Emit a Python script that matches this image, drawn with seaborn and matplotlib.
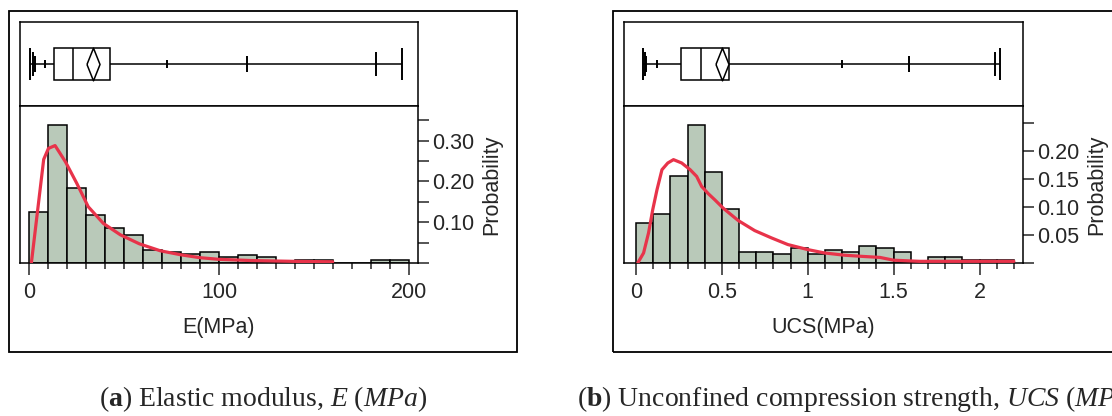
import matplotlib
matplotlib.use('Agg')
import matplotlib.pyplot as plt
from matplotlib.patches import Rectangle
from matplotlib.ticker import FixedLocator, FixedFormatter, MultipleLocator
import seaborn as sns

# ---- values ----
# (a) Elastic modulus E (MPa), histogram with 10 MPa bins
e_edges = list(range(0, 210, 10))
e_prob = [0.125, 0.338, 0.183, 0.117, 0.085, 0.068, 0.031, 0.027, 0.023, 0.028,
          0.015, 0.020, 0.015, 0.0, 0.008, 0.008, 0.0, 0.0, 0.008, 0.008]
# fitted density curve
e_fit_x = [1, 7.5, 10, 13.5, 19, 25, 31, 39, 48, 58, 69, 80, 90, 100, 117, 140, 160]
e_fit_y = [0, 0.254, 0.281, 0.288, 0.248, 0.195, 0.138, 0.097, 0.069, 0.047,
           0.030, 0.020, 0.013, 0.009, 0.006, 0.004, 0.003]
# box chart: min, 1%, 5%, 10%, 90%, 95%, 99%, max
e_pct = [0.3, 1.6, 2.9, 8.3, 72.5, 115, 183, 196.6]
e_quart = [13.2, 22.9, 42.6]
e_mean = 33.4

# (b) Unconfined compression strength UCS (MPa), 0.1 MPa bins
u_edges = [round(0.1 * i, 1) for i in range(23)]
u_prob = [0.071, 0.088, 0.156, 0.247, 0.162, 0.097, 0.019, 0.019, 0.016, 0.026,
          0.017, 0.023, 0.020, 0.030, 0.027, 0.020, 0.0, 0.011, 0.011, 0.006,
          0.006, 0.006]
u_fit_x = [0.01, 0.044, 0.073, 0.097, 0.122, 0.151, 0.185, 0.218, 0.266, 0.315,
           0.353, 0.382, 0.421, 0.459, 0.508, 0.595, 0.691, 0.788, 0.884, 1.0,
           1.097, 1.212, 1.309, 1.42, 1.5, 1.65, 1.9, 2.2]
u_fit_y = [0, 0.018, 0.054, 0.095, 0.131, 0.167, 0.179, 0.185, 0.179, 0.167,
           0.155, 0.137, 0.124, 0.113, 0.098, 0.076, 0.058, 0.045, 0.033, 0.024,
           0.018, 0.014, 0.012, 0.010, 0.005, 0.003, 0.003, 0.003]
u_pct = [0.041, 0.055, 0.060, 0.125, 1.202, 1.587, 2.088, 2.119]
u_quart = [0.262, 0.380, 0.540]
u_mean = 0.503

# ---- style ----
sns.set_style('white')
plt.rcParams['font.family'] = ['Liberation Sans', 'DejaVu Sans']
plt.rcParams['mathtext.fontset'] = 'custom'
plt.rcParams['mathtext.rm'] = 'Liberation Serif'
plt.rcParams['mathtext.it'] = 'Liberation Serif:italic'
plt.rcParams['mathtext.bf'] = 'Liberation Serif:bold'

BAR = '#b9c9b9'
RED = '#e8334a'
LW = 1.1
W, H = 1112, 416

fig = plt.figure(figsize=(W / 100, H / 100), dpi=100)


def fig_rect(x0, y0, x1, y1):
    return [x0 / W, 1 - y1 / H, (x1 - x0) / W, (y1 - y0) / H]


# half heights of the percentile marks (min, 1, 5, 10, 90, 95, 99, max)
mark_half = [0.196, 0.143, 0.10, 0.042, 0.042, 0.10, 0.143, 0.196]
diamond = [(-0.4, 0), (0, 1), (0.4, 0), (0, -1), (-0.4, 0)]


def draw_box(ax, pct, quart, mean, xlim):
    yc, h = 0.5, 0.196
    q1, med, q3 = quart
    ax.hlines(yc, pct[0], q1, color='k', lw=LW)
    ax.hlines(yc, q3, pct[-1], color='k', lw=LW)
    ax.add_patch(Rectangle((q1, yc - h), q3 - q1, 2 * h, facecolor='white',
                           edgecolor='k', lw=LW, zorder=3))
    ax.vlines(med, yc - h, yc + h, color='k', lw=LW, zorder=4)
    for v, hh in zip(pct, mark_half):
        ax.vlines(v, yc - hh, yc + hh, color='k', lw=1.4)
    ax.plot([mean], [yc], marker=diamond, ms=23.5, mfc='white', mec='k',
            mew=LW, zorder=5)
    ax.set_xlim(*xlim)
    ax.set_ylim(0, 1)
    ax.set_xticks([])
    ax.set_yticks([])
    for s in ax.spines.values():
        s.set_linewidth(LW)
        s.set_color('k')


def draw_hist(ax, edges, prob, fx, fy, xlim, ymax, yticks, ylabels,
              xmajor, xlabels, xminor, xlabel):
    centers = [(a + b) / 2 for a, b in zip(edges[:-1], edges[1:])]
    sns.histplot(x=centers, weights=prob, bins=edges, ax=ax, color=BAR,
                 edgecolor='k', linewidth=LW, alpha=1)
    sns.lineplot(x=fx, y=fy, ax=ax, color=RED, linewidth=2.3, zorder=5)
    ax.set_xlim(*xlim)
    ax.set_ylim(0, ymax)
    ax.yaxis.tick_right()
    ax.yaxis.set_label_position('right')
    ax.yaxis.set_major_locator(FixedLocator(yticks))
    ax.yaxis.set_major_formatter(FixedFormatter(ylabels))
    ax.xaxis.set_major_locator(FixedLocator(xmajor))
    ax.xaxis.set_major_formatter(FixedFormatter(xlabels))
    ax.xaxis.set_minor_locator(MultipleLocator(xminor))
    ax.tick_params(axis='y', which='major', direction='out', length=8,
                   width=LW, labelsize=15.5, pad=2, right=True, left=False)
    ax.tick_params(axis='x', which='major', direction='out', length=8.5,
                   width=LW, labelsize=15.5, pad=5, bottom=True)
    ax.tick_params(axis='x', which='minor', direction='out', length=4,
                   width=LW, bottom=True)
    ax.set_ylabel('Probability', fontsize=15.5, labelpad=5)
    ax.set_xlabel(xlabel, fontsize=15.5, labelpad=10)
    for s in ax.spines.values():
        s.set_linewidth(LW)
        s.set_color('k')


# ---- panel (a) ----
e_xlim = (-5, 205)
ax_bx = fig.add_axes(fig_rect(20, 22, 418, 106))
draw_box(ax_bx, e_pct, e_quart, e_mean, e_xlim)
ax_h = fig.add_axes(fig_rect(20, 106, 418, 263))
draw_hist(ax_h, e_edges, e_prob, e_fit_x, e_fit_y, e_xlim, 0.385,
          [0, 0.05, 0.10, 0.15, 0.20, 0.25, 0.30, 0.35],
          ['', '', '0.10', '', '0.20', '', '0.30', ''],
          [0, 100, 200], ['0', '100', '200'], 10, 'E(MPa)')

# ---- panel (b) ----
u_xlim = (-0.07, 2.253)
ax_bx2 = fig.add_axes(fig_rect(624, 22, 1023, 106))
draw_box(ax_bx2, u_pct, u_quart, u_mean, u_xlim)
ax_h2 = fig.add_axes(fig_rect(624, 106, 1023, 263))
draw_hist(ax_h2, u_edges, u_prob, u_fit_x, u_fit_y, u_xlim, 0.281,
          [0, 0.05, 0.10, 0.15, 0.20, 0.25],
          ['', '0.05', '0.10', '0.15', '0.20', ''],
          [0, 0.5, 1, 1.5, 2], ['0', '0.5', '1', '1.5', '2'], 0.1, 'UCS(MPa)')

# outer frames around each sub-figure
for x0 in (9, 613):
    fig.add_artist(Rectangle((x0 / W, 1 - 352 / H), 508 / W, 341 / H,
                             transform=fig.transFigure, fill=False,
                             edgecolor='k', lw=1.3, clip_on=False))

# captions
fig.text(263 / W, 1 - 399 / H,
         r'($\mathbf{a}$) Elastic modulus, $\mathit{E\ (MPa)}$',
         ha='center', va='center', fontsize=20, family='Liberation Serif')
fig.text(577 / W, 1 - 399 / H,
         r'($\mathbf{b}$) Unconfined compression strength, $\mathit{UCS\ (MPa)}$',
         ha='left', va='center', fontsize=20, family='Liberation Serif')

fig.savefig('out.png', dpi=100, facecolor='white')
